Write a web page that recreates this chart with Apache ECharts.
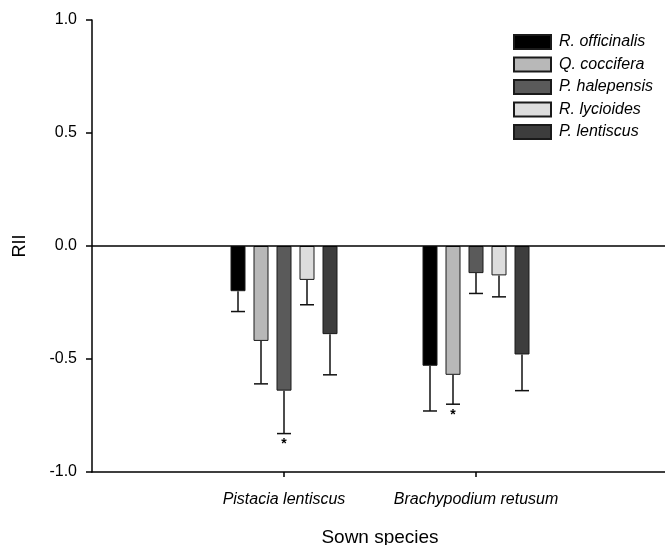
<!DOCTYPE html>
<html>
<head>
<meta charset="utf-8">
<script src="https://cdn.jsdelivr.net/npm/echarts@6/dist/echarts.min.js"></script>
<style>
  html, body { margin: 0; padding: 0; background: #fff; }
  #chart { width: 665px; height: 545px; }
</style>
</head>
<body>
<div id="chart"></div>
<script>
// sown species (blank ends give the axis its empty margins)
var categories = ['', 'Pistacia lentiscus', 'Brachypodium retusum', ''];
var species = ['R. officinalis', 'Q. coccifera', 'P. halepensis', 'R. lycioides', 'P. lentiscus'];
var colors = ['#000000', '#b8b8b8', '#5a5a5a', '#dddddd', '#3d3d3d'];

// RII means per neighbour species, [Pistacia, Brachypodium]
var rOfficinalis = [-0.20, -0.53];
var qCoccifera = [-0.42, -0.57];
var pHalepensis = [-0.64, -0.12];
var rLycioides = [-0.15, -0.13];
var pLentiscus = [-0.39, -0.48];
var means = [rOfficinalis, qCoccifera, pHalepensis, rLycioides, pLentiscus];

// standard errors
var seOfficinalis = [0.09, 0.20];
var seCoccifera = [0.19, 0.13];
var seHalepensis = [0.19, 0.09];
var seLycioides = [0.11, 0.095];
var seLentiscus = [0.18, 0.16];
var errors = [seOfficinalis, seCoccifera, seHalepensis, seLycioides, seLentiscus];

// significance marks
var signif = [[false, false], [false, true], [true, false], [false, false], [false, false]];

var yTicks = [-1.0, -0.5, 0.0, 0.5, 1.0];

var barW = 15, barStep = 23;

var chart = echarts.init(document.getElementById('chart'));

var series = species.map(function (name, s) {
  var item = {
    name: name,
    type: 'bar',
    data: ['-', means[s][0], means[s][1], '-'],
    barWidth: barW,
    barGap: ((barStep - barW) / barW * 100) + '%',
    itemStyle: { color: colors[s], borderColor: '#1a1a1a', borderWidth: 1 },
    silent: true
  };
  if (s === 0) {
    item.markLine = {
      silent: true,
      symbol: 'none',
      label: { show: false },
      lineStyle: { color: '#000', width: 1.5, type: 'solid' },
      data: [{ yAxis: 0 }]
    };
  }
  return item;
});

var errData = [];
species.forEach(function (name, s) {
  for (var i = 0; i < 2; i++) {
    errData.push([i + 1, means[s][i], means[s][i] - errors[s][i], signif[s][i] ? 1 : 0, s]);
  }
});

series.push({
  type: 'custom',
  silent: true,
  encode: { x: 0, y: 1 },
  data: errData,
  z: 5,
  renderItem: function (params, api) {
    var cat = api.value(0);
    var s = api.value(4);
    var top = api.coord([cat, api.value(1)]);
    var bot = api.coord([cat, api.value(2)]);
    var x = top[0] + (s - 2) * barStep;
    var st = { stroke: '#111', lineWidth: 1.5 };
    var children = [
      { type: 'line', shape: { x1: x, y1: top[1], x2: x, y2: bot[1] }, style: st },
      { type: 'line', shape: { x1: x - 7, y1: bot[1], x2: x + 7, y2: bot[1] }, style: st }
    ];
    if (api.value(3)) {
      children.push({
        type: 'text',
        style: {
          text: '*', x: x, y: bot[1] + 4,
          fill: '#000', font: 'bold 14px "Liberation Sans"',
          align: 'center', verticalAlign: 'top'
        }
      });
    }
    return { type: 'group', children: children };
  }
});

chart.setOption({
  animation: false,
  textStyle: { fontFamily: 'Liberation Sans' },
  grid: { left: 92, top: 20, width: 576, height: 452, outerBoundsMode: 'none' },
  legend: {
    orient: 'vertical',
    left: 513,
    top: 34,
    padding: 0,
    itemWidth: 37,
    itemHeight: 14,
    itemGap: 6.5,
    icon: 'rect',
    data: species,
    textStyle: { fontSize: 16, lineHeight: 14, fontStyle: 'italic', color: '#000', padding: [0, 0, 0, 3] }
  },
  xAxis: {
    type: 'category',
    data: categories,
    boundaryGap: false,
    name: 'Sown species',
    nameLocation: 'middle',
    nameGap: 56,
    nameTextStyle: { fontSize: 19, color: '#000' },
    axisLine: { onZero: false, lineStyle: { color: '#000', width: 1.5 } },
    axisTick: {
      length: 5,
      lineStyle: { color: '#000', width: 1.5 },
      interval: function (i) { return i === 1 || i === 2; }
    },
    axisLabel: {
      interval: 0,
      margin: 20,
      fontSize: 16,
      fontStyle: 'italic',
      color: '#000'
    },
    splitLine: { show: false }
  },
  yAxis: {
    type: 'value',
    min: yTicks[0],
    max: yTicks[yTicks.length - 1],
    interval: 0.5,
    name: 'RII',
    nameLocation: 'middle',
    nameGap: 63,
    nameTextStyle: { fontSize: 18, color: '#000' },
    axisLine: { show: true, lineStyle: { color: '#000', width: 1.5 } },
    axisTick: { show: true, length: 6, lineStyle: { color: '#000', width: 1.5 } },
    axisLabel: {
      margin: 15,
      fontSize: 16,
      color: '#000',
      formatter: function (v) { return v.toFixed(1); }
    },
    splitLine: { show: false }
  },
  series: series
});
</script>
</body>
</html>
